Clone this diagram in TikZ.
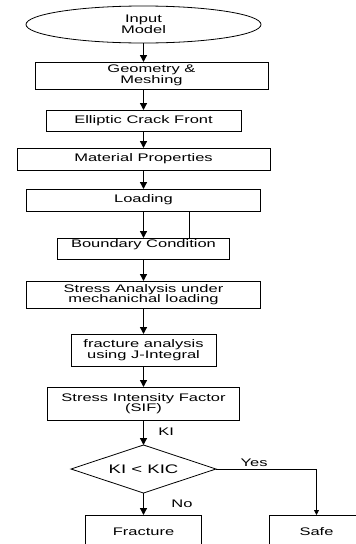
\documentclass[tikz,border=0pt]{standalone}
\usepackage{fontspec}
\setmainfont[FakeStretch=1.5]{Liberation Sans}
\usetikzlibrary{arrows.meta,positioning,shapes.geometric}

\begin{document}
\begin{tikzpicture}[
  x=1pt, y=1pt,
  every node/.style={font=\fontsize{11pt}{10.5pt}\selectfont},
  stepbox/.style={draw, line width=0.9pt, align=center, inner sep=0pt, outer sep=0pt},
  flow/.style={-{Triangle[length=7pt,width=7pt]}, line width=1.3pt},
  node distance=20pt
]
\useasboundingbox (0,0) rectangle (356,-544);

\node[ellipse, draw, line width=0.8pt, align=center, inner sep=0pt, outer sep=0pt, minimum width=235pt, minimum height=37pt] (input) at (143.5,-24.5) {Input\\Model};
\node[stepbox, minimum width=233pt, minimum height=27pt, below=19pt of input, xshift=8pt] (geo) {Geometry \&\\Meshing};
\node[stepbox, minimum width=195pt, minimum height=21pt, below=21pt of geo, xshift=-8pt] (crack) {Elliptic Crack Front};
\node[stepbox, minimum width=253pt, minimum height=22pt, below=17pt of crack] (mat) {Material Properties};
\node[stepbox, minimum width=234pt, minimum height=22pt, below=19pt of mat] (load) {Loading};
\node[stepbox, minimum width=172pt, minimum height=21pt, text height=9pt, text depth=12pt, below=27pt of load] (bc) {Boundary Condition};
\node[stepbox, minimum width=234pt, minimum height=27pt, below=22pt of bc] (stress) {Stress Analysis under\\mechanichal loading};
\node[stepbox, minimum width=145pt, minimum height=32pt, below=26pt of stress] (jint) {fracture analysis\\using J-Integral};
\node[stepbox, minimum width=192pt, minimum height=33pt, below=21pt of jint] (sif) {Stress Intensity Factor\\(SIF)};
\node[diamond, draw, line width=0.8pt, aspect=3, inner sep=0pt, outer sep=0pt, minimum width=145pt, minimum height=48pt, below=25pt of sif, font=\fontsize{12.4pt}{12pt}\selectfont] (check) {KI < KIC};
\node[stepbox, minimum width=116pt, minimum height=33pt, below=22pt of check] (fract) {Fracture};
\node[stepbox, minimum width=94pt, minimum height=33pt, right=68pt of fract] (safe) {Safe};

\draw[flow] (input) -- (input |- geo.north);
\draw[flow] (input |- geo.south) -- (crack);
\foreach \a/\b in {crack/mat, mat/load, load/bc, bc/stress, stress/jint, jint/sif}
  \draw[flow] (\a) -- (\b);
\draw[line width=0.9pt] ([xshift=45.5pt]load.south) -- ([xshift=45.5pt]load.south |- bc.north);
\draw[flow] (sif) -- node[right=11pt, pos=0.45] (ki) {KI} (check);
\draw[flow] (check) -- node[right=24pt] (no) {No} (fract);
\draw[-{Triangle[length=5pt,width=5pt]}, line width=0.8pt] (check.east) -| node[above=-1pt, pos=0.19] (yes) {Yes} (safe);
\end{tikzpicture}
\end{document}
